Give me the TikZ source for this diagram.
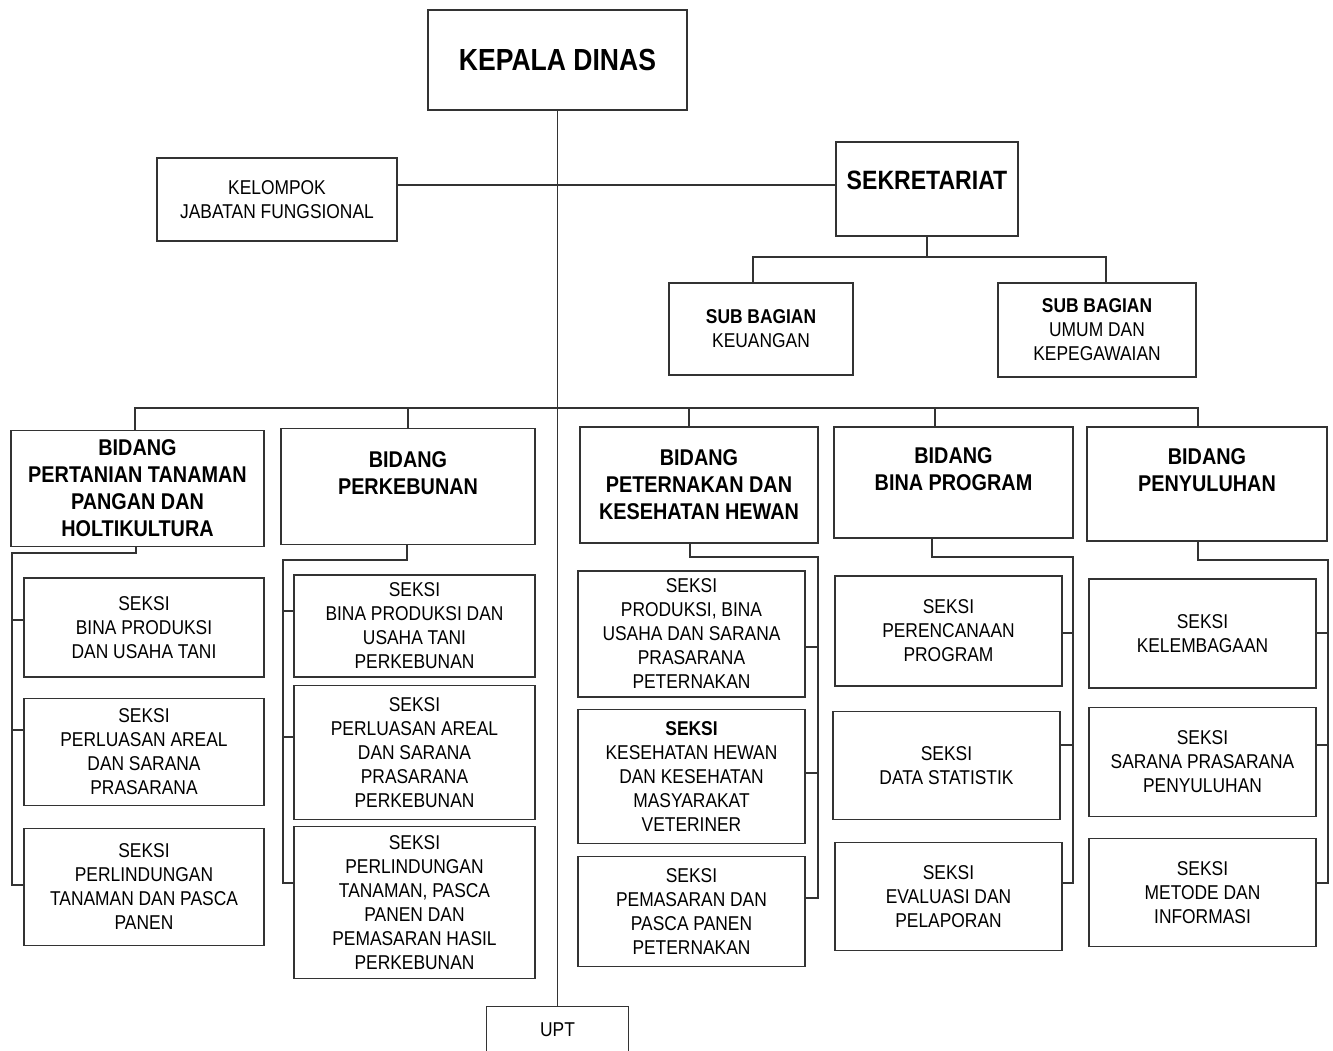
\documentclass[tikz,border=0pt]{standalone}
\usepackage{fontspec}
\setmainfont{Liberation Sans}[FakeStretch=0.87]
\usepackage{tikz}
\usetikzlibrary{positioning}
\tikzset{unit/.style={
        draw=black!80,
        line width=1.2pt,
        rectangle,
        inner sep=2pt,
        align=center,
        font=\fontsize{20}{24}\selectfont
}}
\tikzset{bidang/.style={
        unit,
        minimum height=116pt,
        font=\bfseries\fontsize{22.8}{27}\selectfont
}}
\tikzset{seksi/.style={
        unit,
        minimum width=227pt
}}
\tikzset{garis/.style={draw=black!80,line width=1.2pt}}

\begin{document}
\begin{tikzpicture}[x=1pt,y=1pt,node distance=10pt]
\useasboundingbox (0,0) rectangle (1333,-1050);

% pimpinan dan sekretariat
\node[unit, minimum width=259pt, minimum height=100pt, font=\bfseries\fontsize{30.5}{36}\selectfont] (kepala) at (557.5,-60) {KEPALA DINAS};
\node[unit, minimum width=240pt, minimum height=83pt] (kelompok) at (277,-199.5) {KELOMPOK\\JABATAN FUNGSIONAL};
\node[unit, minimum width=182pt, minimum height=94pt, font=\bfseries\fontsize{26.5}{32}\selectfont] (sekretariat) at (927,-189) {\raisebox{9pt}[\height][\depth]{SEKRETARIAT}};
\node[unit, minimum width=184pt, minimum height=92pt] (sbkeu) at (761,-329) {\textbf{SUB BAGIAN}\\KEUANGAN};
\node[unit, minimum width=198pt, minimum height=94pt] (sbumum) at (1097,-330) {\textbf{SUB BAGIAN}\\UMUM DAN\\KEPEGAWAIAN};
\node[unit, anchor=north, minimum width=142pt, minimum height=56pt] (upt) at (557.5,-1006) {\raisebox{5pt}[\height][\depth]{UPT}};

% bidang
\node[bidang, minimum width=253pt] (bid1) at (137.5,-488.5) {BIDANG\\PERTANIAN TANAMAN\\PANGAN DAN\\HOLTIKULTURA};
\node[bidang, minimum width=254pt] (bid2) at (408,-486.5) {BIDANG\\PERKEBUNAN\\\mbox{}};
\node[bidang, minimum width=238pt] (bid3) at (699,-485) {BIDANG\\PETERNAKAN DAN\\KESEHATAN HEWAN};
\node[bidang, minimum width=239pt, minimum height=111pt] (bid4) at (953.5,-482.5) {BIDANG\\BINA PROGRAM\\\mbox{}};
\node[bidang, minimum width=240pt, minimum height=114pt] (bid5) at (1207,-484) {BIDANG\\PENYULUHAN\\\mbox{}};

% seksi
\node[seksi, minimum width=240pt, minimum height=99pt] (sek11) at (144,-627.5) {SEKSI\\BINA PRODUKSI\\DAN USAHA TANI};
\node[seksi, minimum width=240pt, minimum height=107pt, below=20pt of sek11] (sek12) {SEKSI\\PERLUASAN AREAL\\DAN SARANA\\PRASARANA};
\node[seksi, minimum width=240pt, minimum height=117pt, below=22pt of sek12] (sek13) {SEKSI\\PERLINDUNGAN\\TANAMAN DAN PASCA\\PANEN};

\node[seksi, minimum width=241pt, minimum height=102pt] (sek21) at (414.5,-626) {SEKSI\\BINA PRODUKSI DAN\\USAHA TANI\\PERKEBUNAN};
\node[seksi, minimum width=241pt, minimum height=134pt, below=7pt of sek21] (sek22) {SEKSI\\PERLUASAN AREAL\\DAN SARANA\\PRASARANA\\PERKEBUNAN};
\node[seksi, minimum width=241pt, minimum height=152pt, below=6pt of sek22] (sek23) {SEKSI\\PERLINDUNGAN\\TANAMAN, PASCA\\PANEN DAN\\PEMASARAN HASIL\\PERKEBUNAN};

\node[seksi, minimum height=126pt] (sek31) at (691.5,-634) {SEKSI\\PRODUKSI, BINA\\USAHA DAN SARANA\\PRASARANA\\PETERNAKAN};
\node[seksi, minimum height=134pt, below=11pt of sek31] (sek32) {\textbf{SEKSI}\\KESEHATAN HEWAN\\DAN KESEHATAN\\MASYARAKAT\\VETERINER};
\node[seksi, minimum height=110pt, below=12pt of sek32] (sek33) {SEKSI\\PEMASARAN DAN\\PASCA PANEN\\PETERNAKAN};

\node[seksi, minimum height=110pt] (sek41) at (948.5,-631) {SEKSI\\PERENCANAAN\\PROGRAM};
\node[seksi, minimum height=108pt, below=24pt of sek41, xshift=-2pt] (sek42) {SEKSI\\DATA STATISTIK};
\node[seksi, minimum height=108pt, below=22pt of sek42, xshift=2pt] (sek43) {SEKSI\\EVALUASI DAN\\PELAPORAN};

\node[seksi, minimum height=109pt] (sek51) at (1202.5,-633.5) {SEKSI\\KELEMBAGAAN};
\node[seksi, minimum height=109pt, below=18pt of sek51] (sek52) {SEKSI\\SARANA PRASARANA\\PENYULUHAN};
\node[seksi, minimum height=108pt, below=21pt of sek52] (sek53) {SEKSI\\METODE DAN\\INFORMASI};

% garis atas
\coordinate (sb) at (0,-257);
\coordinate (bus) at (0,-408);
\draw[garis] (kepala) -- (upt);
\draw[garis] ([yshift=4pt]sekretariat.west) -- ([yshift=4pt]sekretariat.west -| kelompok.east);
\draw[garis] (sekretariat.south) -- (sekretariat.south |- sb);
\draw[garis] ([xshift=-8pt]sbkeu.north) |- ([xshift=9pt]sbumum.north |- sb) -- ([xshift=9pt]sbumum.north);
\draw[garis] ([xshift=-2.5pt]bid1.north) |- ([xshift=-9pt]bid5.north |- bus) -- ([xshift=-9pt]bid5.north);
\draw[garis] (bid2.north |- bus) -- (bid2.north);
\draw[garis] ([xshift=-10pt]bid3.north |- bus) -- ([xshift=-10pt]bid3.north);
\draw[garis] ([xshift=-18.5pt]bid4.north |- bus) -- ([xshift=-18.5pt]bid4.north);

% garis seksi
\coordinate (r1t) at (12,-553);   \coordinate (r1a) at (12,-620);
\coordinate (r1b) at (12,-730);   \coordinate (r1c) at (12,-885);
\coordinate (r2t) at (283,-560);  \coordinate (r2a) at (283,-611);
\coordinate (r2b) at (283,-737);  \coordinate (r2c) at (283,-883);
\coordinate (r3t) at (818,-557);  \coordinate (r3a) at (818,-647);
\coordinate (r3b) at (818,-773);  \coordinate (r3c) at (818,-898);
\coordinate (r4t) at (1073,-557); \coordinate (r4a) at (1073,-633);
\coordinate (r4b) at (1073,-745); \coordinate (r4c) at (1073,-883);
\coordinate (r5t) at (1328,-560); \coordinate (r5a) at (1328,-633);
\coordinate (r5b) at (1328,-745); \coordinate (r5c) at (1328,-883);

\draw[garis] ([xshift=-1.5pt]bid1.south) |- (r1t) -- (r1c) -- (r1c -| sek13.west);
\draw[garis] (r1a) -- (r1a -| sek11.west);
\draw[garis] (r1b) -- (r1b -| sek12.west);

\draw[garis] ([xshift=-1pt]bid2.south) |- (r2t) -- (r2c) -- (r2c -| sek23.west);
\draw[garis] (r2a) -- (r2a -| sek21.west);
\draw[garis] (r2b) -- (r2b -| sek22.west);

\draw[garis] ([xshift=-9pt]bid3.south) |- (r3t) -- (r3c) -- (r3c -| sek33.east);
\draw[garis] (r3a) -- (r3a -| sek31.east);
\draw[garis] (r3b) -- (r3b -| sek32.east);

\draw[garis] ([xshift=-21.5pt]bid4.south) |- (r4t) -- (r4c) -- (r4c -| sek43.east);
\draw[garis] (r4a) -- (r4a -| sek41.east);
\draw[garis] (r4b) -- (r4b -| sek42.east);

\draw[garis] ([xshift=-9pt]bid5.south) |- (r5t) -- (r5c) -- (r5c -| sek53.east);
\draw[garis] (r5a) -- (r5a -| sek51.east);
\draw[garis] (r5b) -- (r5b -| sek52.east);
\end{tikzpicture}
\end{document}
